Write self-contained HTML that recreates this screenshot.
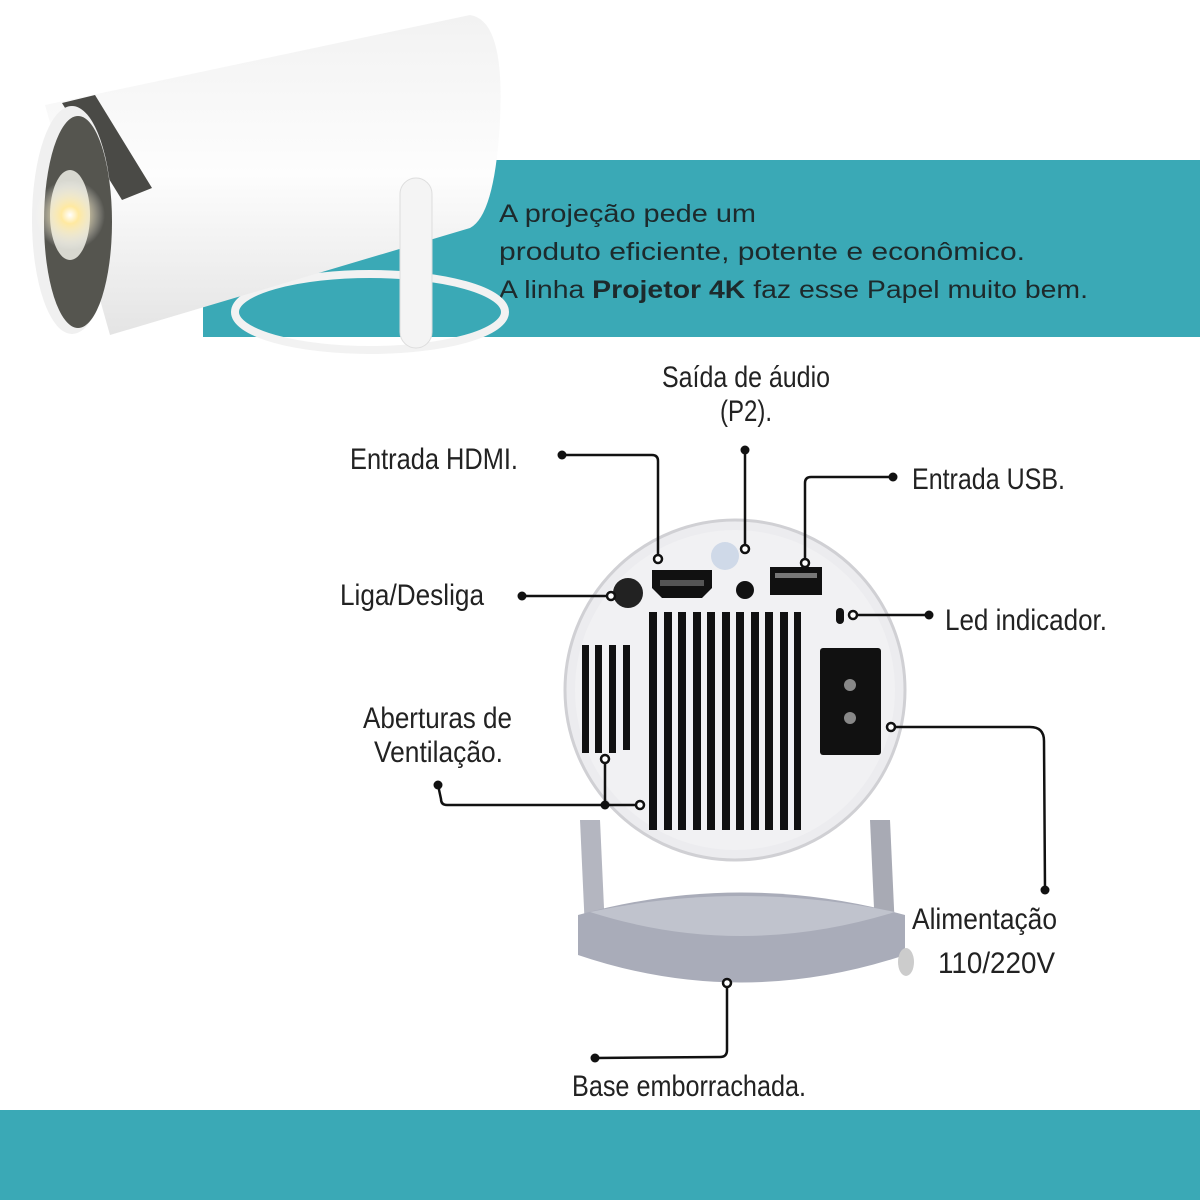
<!DOCTYPE html>
<html><head><meta charset="utf-8"><style>
html,body{margin:0;padding:0;background:#fff;}
body{width:1200px;height:1200px;position:relative;overflow:hidden;}
.band{position:absolute;background:#3aa9b6;}
svg{position:absolute;left:0;top:0;}
.lab{font-family:"Liberation Sans",sans-serif;font-size:30px;fill:#222;}
.intro{font-family:"Liberation Sans",sans-serif;font-size:25px;fill:#1d2a2c;}
</style></head><body>
<div class="band" style="left:203px;top:160px;width:997px;height:177px"></div>
<div class="band" style="left:0;top:1110px;width:1200px;height:90px"></div>
<svg width="1200" height="1200" viewBox="0 0 1200 1200">
<defs>
<radialGradient id="glow" cx="0.5" cy="0.5" r="0.5"><stop offset="0" stop-color="#fff"/><stop offset="0.25" stop-color="#ffe9a0"/><stop offset="1" stop-color="#fff" stop-opacity="0"/></radialGradient>
<linearGradient id="body" x1="0" y1="0" x2="0" y2="1"><stop offset="0" stop-color="#f2f2f2"/><stop offset="0.5" stop-color="#fdfdfd"/><stop offset="1" stop-color="#e4e4e4"/></linearGradient>
</defs>
<g class="intro">
<text x="499" y="222" textLength="257" lengthAdjust="spacingAndGlyphs">A projeção pede um</text>
<text x="499" y="260" textLength="526" lengthAdjust="spacingAndGlyphs">produto eficiente, potente e econômico.</text>
<text x="499" y="298" textLength="589" lengthAdjust="spacingAndGlyphs">A linha <tspan font-weight="bold">Projetor 4K</tspan> faz esse Papel muito bem.</text>
</g>
<ellipse cx="370" cy="312" rx="135" ry="38" fill="none" stroke="#f2f2f2" stroke-width="8"/>
<path d="M45,105 L470,15 Q505,20 500,120 Q495,215 470,228 L110,335 Z" fill="url(#body)"/>
<rect x="400" y="178" width="32" height="170" rx="16" fill="#f4f4f4" stroke="#ddd"/>
<path d="M62,103 L95,95 L152,188 L122,200 Z" fill="#4a4a46"/>
<ellipse cx="72" cy="220" rx="40" ry="114" fill="#f0f0f0"/>
<ellipse cx="78" cy="222" rx="34" ry="106" fill="#55554f"/>
<ellipse cx="70" cy="215" rx="20" ry="45" fill="#d8d8d0"/>
<circle cx="70" cy="215" r="35" fill="url(#glow)"/>
<path d="M580,820 L600,820 L605,930 L585,930 Z" fill="#b4b6c0"/>
<path d="M870,820 L890,820 L895,930 L875,930 Z" fill="#a8aab4"/>
<path d="M578,915 Q740,870 905,915 L905,955 Q740,1010 578,955 Z" fill="#a9acb9"/>
<path d="M590,912 Q740,880 895,912 Q740,960 590,912 Z" fill="#c0c3cd"/>
<circle cx="735" cy="690" r="170" fill="#ececef" stroke="#d0d0d4" stroke-width="3"/>
<circle cx="735" cy="690" r="160" fill="#f1f1f3"/>
<g fill="#111">
<rect x="649" y="612" width="8" height="218"/><rect x="664" y="612" width="8" height="218"/><rect x="678" y="612" width="8" height="218"/><rect x="693" y="612" width="8" height="218"/><rect x="707" y="612" width="8" height="218"/><rect x="722" y="612" width="8" height="218"/><rect x="736" y="612" width="8" height="218"/><rect x="751" y="612" width="8" height="218"/><rect x="765" y="612" width="8" height="218"/><rect x="780" y="612" width="8" height="218"/><rect x="794" y="612" width="7" height="218"/>
<rect x="582" y="645" width="7" height="108"/><rect x="595" y="645" width="7" height="108"/><rect x="609" y="645" width="7" height="108"/><rect x="623" y="645" width="7" height="105"/>
<rect x="820" y="648" width="61" height="107" rx="3"/>
<circle cx="628" cy="593" r="15" fill="#222"/>
<circle cx="745" cy="590" r="9"/>
<rect x="836" y="608" width="8" height="16" rx="4"/>
</g>
<ellipse cx="850" cy="685" rx="6" ry="6" fill="#888"/><ellipse cx="850" cy="718" rx="6" ry="6" fill="#888"/>
<path d="M652,570 L712,570 L712,588 L702,598 L662,598 L652,588 Z" fill="#111"/>
<rect x="660" y="580" width="44" height="6" fill="#555"/>
<rect x="770" y="567" width="52" height="28" fill="#111"/><rect x="775" y="573" width="42" height="5" fill="#777"/>
<circle cx="725" cy="556" r="14" fill="#cfd9e8"/>
<g fill="none" stroke="#111" stroke-width="2.5">
<path d="M562,455 L652,455 Q658,455 658,461 L658,556"/>
<path d="M745,450 L745,546"/>
<path d="M893,477 L811,477 Q805,477 805,483 L805,560"/>
<path d="M522,596 L608,596"/>
<path d="M929,615 L857,615"/>
<path d="M895,727 L1030,727 Q1044,727 1044,741 L1045,890"/>
<path d="M438,785 L441,799 Q441,805 447,805 L636,805"/>
<path d="M605,805 L605,763"/>
<path d="M727,987 L727,1050 Q727,1057 720,1057 L595,1058"/>
</g>
<g fill="#fff" stroke="#111" stroke-width="2.5">
<circle cx="658" cy="559" r="4"/><circle cx="745" cy="549" r="4"/><circle cx="805" cy="563" r="4"/>
<circle cx="611" cy="596" r="4"/><circle cx="853" cy="615" r="4"/><circle cx="891" cy="727" r="4"/>
<circle cx="640" cy="805" r="4"/><circle cx="605" cy="759" r="4"/><circle cx="727" cy="983" r="4"/>
</g>
<g fill="#111">
<circle cx="562" cy="455" r="4.5"/><circle cx="745" cy="450" r="4.5"/><circle cx="893" cy="477" r="4.5"/>
<circle cx="522" cy="596" r="4.5"/><circle cx="929" cy="615" r="4.5"/><circle cx="1045" cy="890" r="4.5"/>
<circle cx="438" cy="785" r="4.5"/><circle cx="605" cy="805" r="4.5"/><circle cx="595" cy="1058" r="4.5"/>
</g>
<g class="lab">
<text x="350" y="469" textLength="168" lengthAdjust="spacingAndGlyphs">Entrada HDMI.</text>
<text x="662" y="387" textLength="168" lengthAdjust="spacingAndGlyphs">Saída de áudio</text>
<text x="720" y="421" textLength="52" lengthAdjust="spacingAndGlyphs">(P2).</text>
<text x="912" y="489" textLength="153" lengthAdjust="spacingAndGlyphs">Entrada USB.</text>
<text x="340" y="605" textLength="144" lengthAdjust="spacingAndGlyphs">Liga/Desliga</text>
<text x="945" y="630" textLength="162" lengthAdjust="spacingAndGlyphs">Led indicador.</text>
<text x="363" y="728" textLength="149" lengthAdjust="spacingAndGlyphs">Aberturas de</text>
<text x="374" y="762" textLength="129" lengthAdjust="spacingAndGlyphs">Ventilação.</text>
<text x="912" y="929" textLength="145" lengthAdjust="spacingAndGlyphs">Alimentação</text>
<text x="938" y="973" textLength="117" lengthAdjust="spacingAndGlyphs">110/220V</text>
<text x="572" y="1096" textLength="234" lengthAdjust="spacingAndGlyphs">Base emborrachada.</text>
</g>
<ellipse cx="906" cy="962" rx="8" ry="14" fill="#ccc"/>
</svg>
</body></html>
